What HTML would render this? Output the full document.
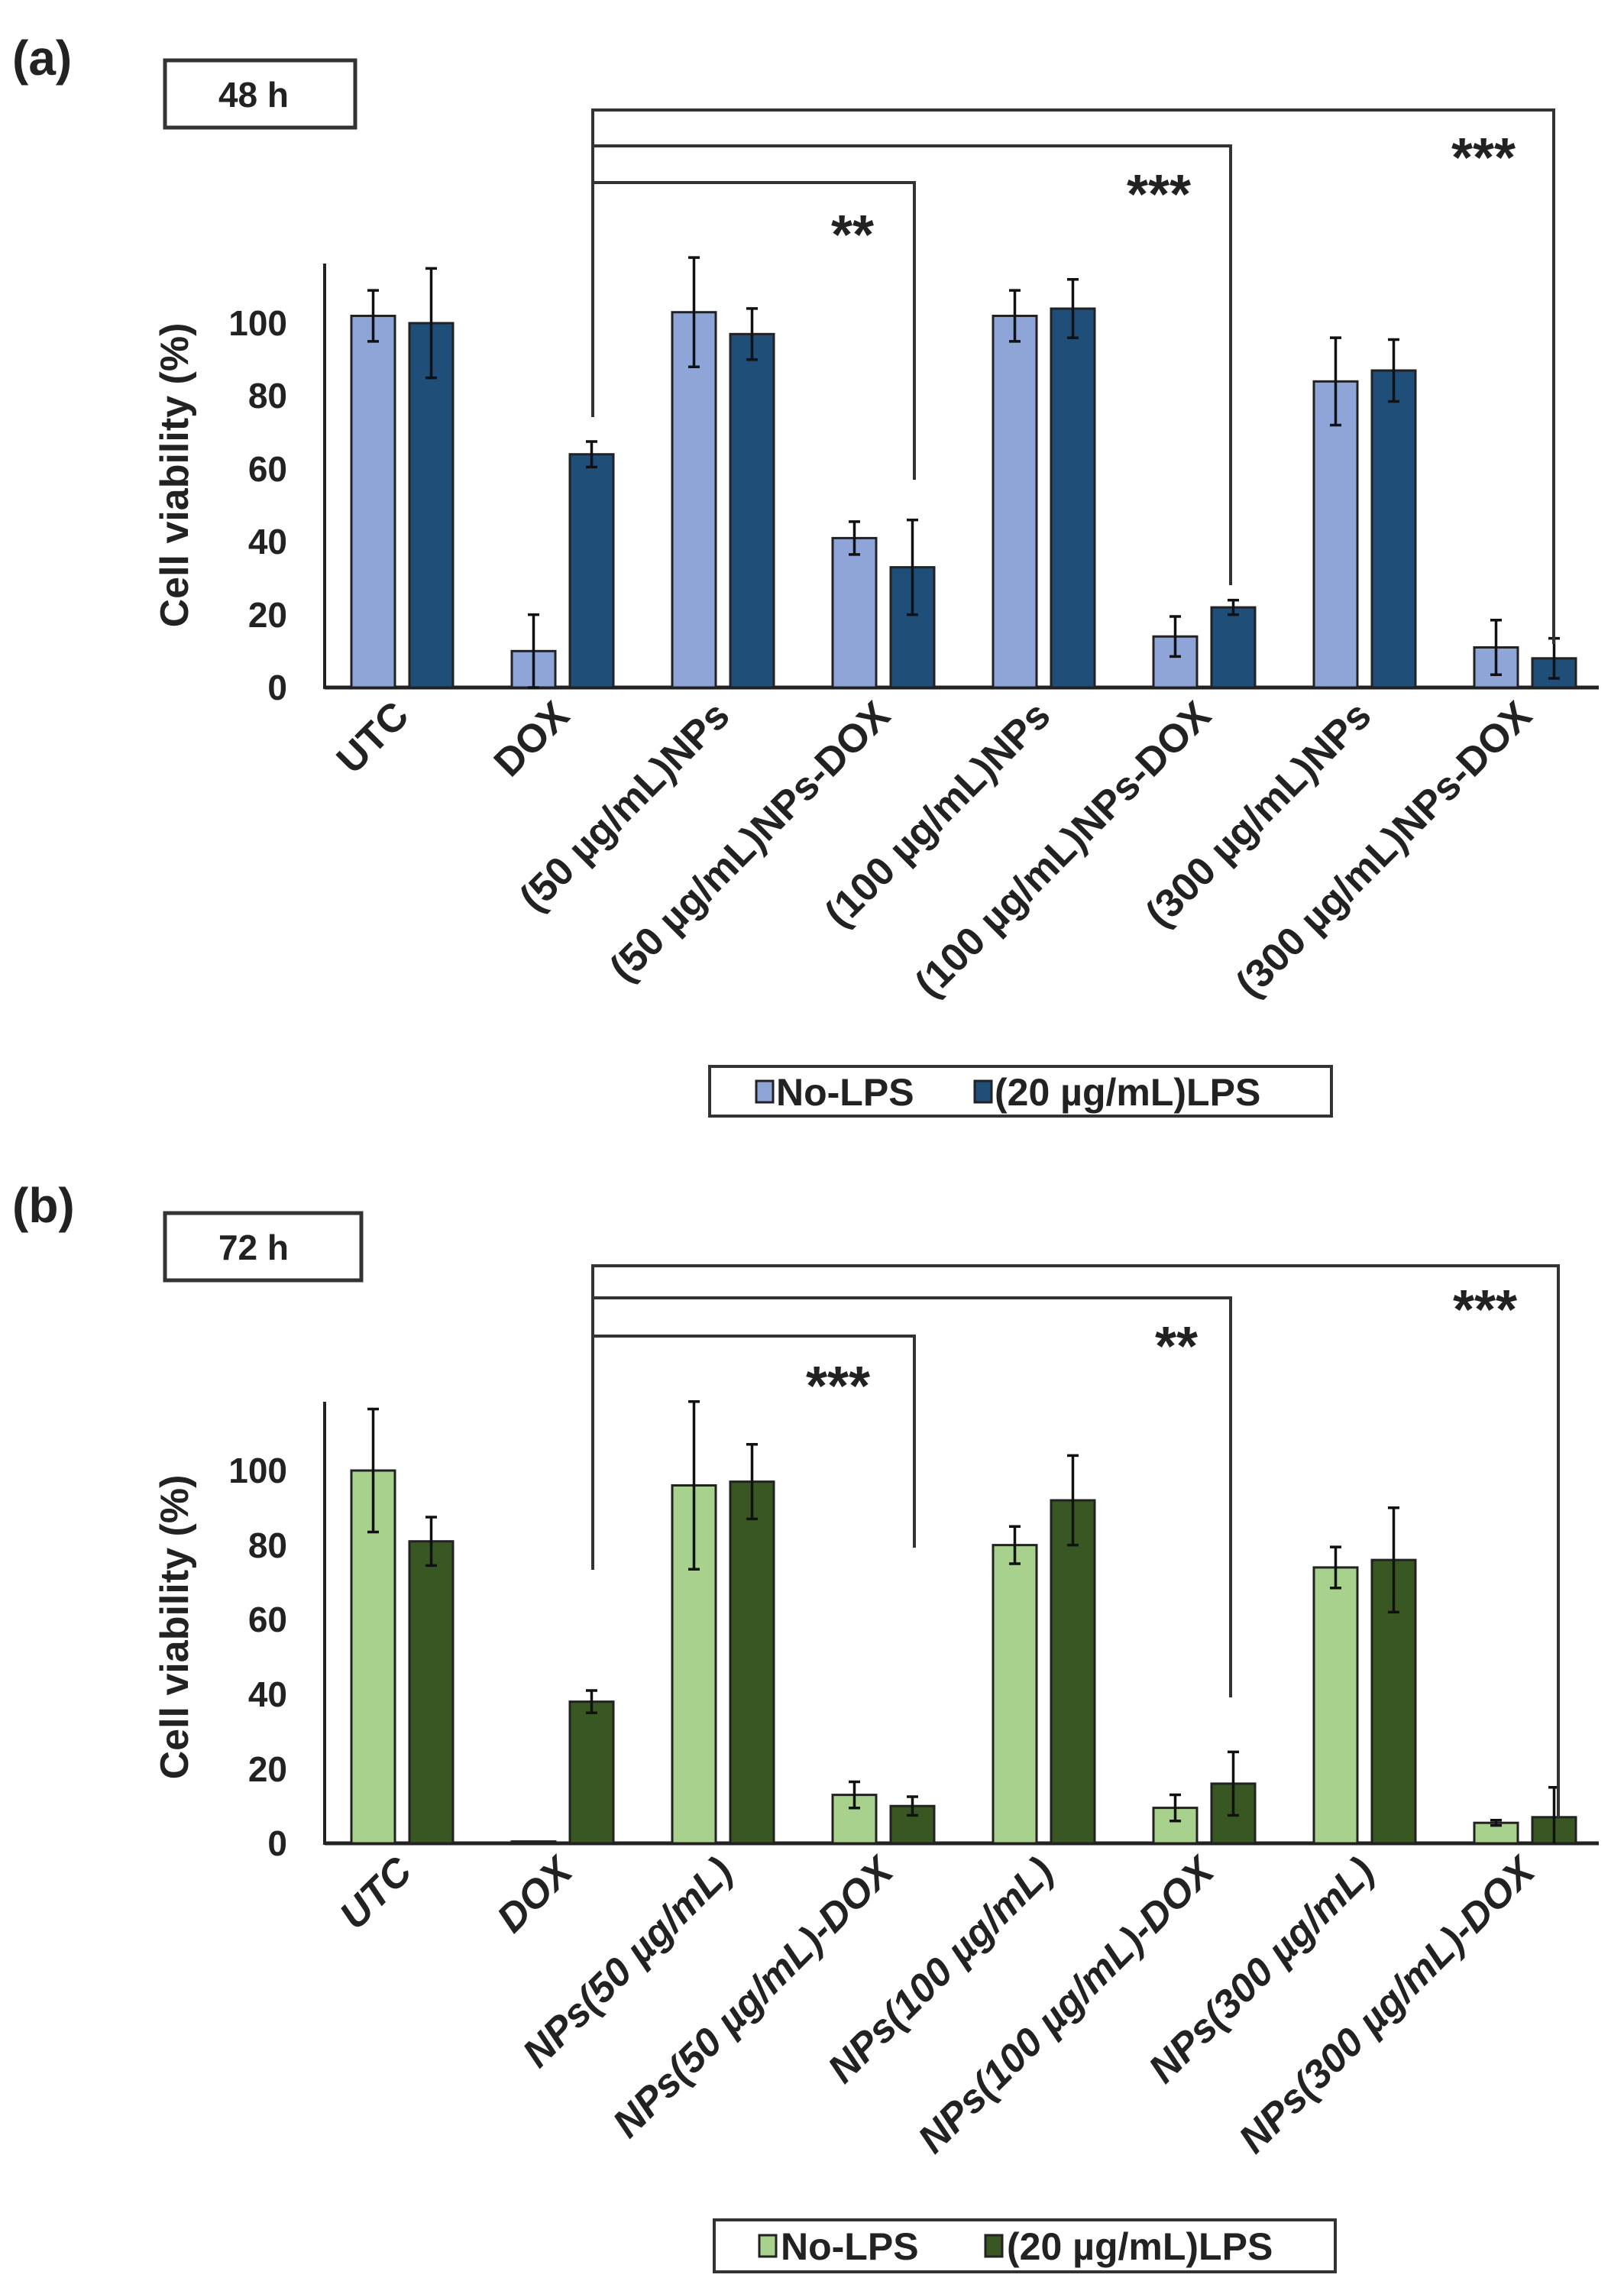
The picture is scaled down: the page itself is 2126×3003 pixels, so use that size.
<!DOCTYPE html>
<html><head><meta charset="utf-8"><style>
html,body{margin:0;padding:0;background:#fff}
svg{display:block}
text{font-family:"Liberation Sans",Arial,sans-serif;font-weight:bold;fill:#222}
</style></head><body>
<svg width="2126" height="3003" viewBox="0 0 2126 3003" xmlns="http://www.w3.org/2000/svg">
<!-- ================= PANEL A ================= -->
<text x="16" y="98" font-size="64">(a)</text>
<rect x="216" y="79" width="249" height="88" fill="#fff" stroke="#333" stroke-width="5"/>
<text x="332" y="140" font-size="46" text-anchor="middle">48 h</text>

<line x1="425" y1="345" x2="425" y2="902" stroke="#222" stroke-width="4"/>
<line x1="425" y1="900" x2="2093" y2="900" stroke="#222" stroke-width="5"/>
<g font-size="46" text-anchor="end">
<text x="376" y="916">0</text><text x="376" y="821">20</text><text x="376" y="725">40</text>
<text x="376" y="630">60</text><text x="376" y="534">80</text><text x="376" y="439">100</text>
</g>
<text transform="translate(246,622) rotate(-90)" font-size="52" text-anchor="middle">Cell viability (%)</text>

<g stroke="#222" stroke-width="3">
<g fill="#8FA5D8">
<rect x="460" y="413.5" width="57" height="486.5"/>
<rect x="670" y="852.3" width="57" height="47.7"/>
<rect x="880" y="408.7" width="57" height="491.3"/>
<rect x="1090" y="704.4" width="57" height="195.6"/>
<rect x="1300" y="413.5" width="57" height="486.5"/>
<rect x="1510" y="833.2" width="57" height="66.8"/>
<rect x="1720" y="499.3" width="57" height="400.7"/>
<rect x="1930" y="847.5" width="57" height="52.5"/>
</g>
<g fill="#1F4E79">
<rect x="536" y="423" width="57" height="477"/>
<rect x="746" y="594.7" width="57" height="305.3"/>
<rect x="956" y="437.3" width="57" height="462.7"/>
<rect x="1166" y="742.6" width="57" height="157.4"/>
<rect x="1376" y="404" width="57" height="496"/>
<rect x="1586" y="795.1" width="57" height="104.9"/>
<rect x="1796" y="485" width="57" height="415"/>
<rect x="2006" y="861.8" width="57" height="38.2"/>
</g>
</g>
<g stroke="#111" stroke-width="3.5" fill="none">
<path d="M488.5 380.1V446.9M481 380.1H496M481 446.9H496"/>
<path d="M698.5 804.6V900M691 804.6H706M691 900H706"/>
<path d="M908.5 337.1V480.3M901 337.1H916M901 480.3H916"/>
<path d="M1118.5 682.9V725.9M1111 682.9H1126M1111 725.9H1126"/>
<path d="M1328.5 380.1V446.9M1321 380.1H1336M1321 446.9H1336"/>
<path d="M1538.5 807V859.4M1531 807H1546M1531 859.4H1546"/>
<path d="M1748.5 442.1V556.5M1741 442.1H1756M1741 556.5H1756"/>
<path d="M1958.5 811.7V883.3M1951 811.7H1966M1951 883.3H1966"/>
<path d="M564.5 351.4V494.6M557 351.4H572M557 494.6H572"/>
<path d="M774.5 578V611.4M767 578H782M767 611.4H782"/>
<path d="M984.5 403.9V470.7M977 403.9H992M977 470.7H992"/>
<path d="M1194.5 680.6V804.6M1187 680.6H1202M1187 804.6H1202"/>
<path d="M1404.5 365.8V442.2M1397 365.8H1412M1397 442.2H1412"/>
<path d="M1614.5 785.6V804.6M1607 785.6H1622M1607 804.6H1622"/>
<path d="M1824.5 444.5V525.5M1817 444.5H1832M1817 525.5H1832"/>
<path d="M2034.5 835.6V888M2027 835.6H2042M2027 888H2042"/>
</g>
<g stroke="#333" stroke-width="4" fill="none">
<path d="M776 546V144H2034V843"/>
<path d="M776 191H1611V766"/>
<path d="M776 239H1197V628"/>
</g>
<g font-size="72" text-anchor="middle">
<text x="1116" y="332">**</text>
<text x="1517" y="279">***</text>
<text x="1942" y="231">***</text>
</g>
<g font-size="52" text-anchor="end">
<text transform="translate(538,940) rotate(-45)">UTC</text>
<text transform="translate(748,940) rotate(-45)">DOX</text>
<text transform="translate(958,940) rotate(-45)">(50 µg/mL)NPs</text>
<text transform="translate(1168,940) rotate(-45)">(50 µg/mL)NPs-DOX</text>
<text transform="translate(1378,940) rotate(-45)">(100 µg/mL)NPs</text>
<text transform="translate(1588,940) rotate(-45)">(100 µg/mL)NPs-DOX</text>
<text transform="translate(1798,940) rotate(-45)">(300 µg/mL)NPs</text>
<text transform="translate(2008,940) rotate(-45)">(300 µg/mL)NPs-DOX</text>
</g>
<rect x="929" y="1396" width="814" height="65" fill="#fff" stroke="#333" stroke-width="4"/>
<rect x="990" y="1415" width="22" height="28" fill="#8FA5D8" stroke="#222" stroke-width="3"/>
<text x="1016" y="1447" font-size="50">No-LPS</text>
<rect x="1276" y="1415" width="22" height="28" fill="#1F4E79" stroke="#222" stroke-width="3"/>
<text x="1302" y="1447" font-size="50">(20 µg/mL)LPS</text>

<!-- ================= PANEL B ================= -->
<text x="16" y="1600" font-size="64">(b)</text>
<rect x="216" y="1588" width="257" height="88" fill="#fff" stroke="#333" stroke-width="5"/>
<text x="332" y="1649" font-size="46" text-anchor="middle">72 h</text>

<line x1="425" y1="1835" x2="425" y2="2415" stroke="#222" stroke-width="4"/>
<line x1="425" y1="2413" x2="2093" y2="2413" stroke="#222" stroke-width="5"/>
<g font-size="46" text-anchor="end">
<text x="376" y="2429">0</text><text x="376" y="2332">20</text><text x="376" y="2234">40</text>
<text x="376" y="2136">60</text><text x="376" y="2039">80</text><text x="376" y="1941">100</text>
</g>
<text transform="translate(246,2130) rotate(-90)" font-size="52" text-anchor="middle">Cell viability (%)</text>

<g stroke="#222" stroke-width="3">
<g fill="#A9D18E">
<rect x="460" y="1925" width="57" height="488"/>
<rect x="670" y="2410.6" width="57" height="2.4"/>
<rect x="880" y="1944.5" width="57" height="468.5"/>
<rect x="1090" y="2349.6" width="57" height="63.4"/>
<rect x="1300" y="2022.6" width="57" height="390.4"/>
<rect x="1510" y="2366.6" width="57" height="46.4"/>
<rect x="1720" y="2051.9" width="57" height="361.1"/>
<rect x="1930" y="2386.2" width="57" height="26.8"/>
</g>
<g fill="#385723">
<rect x="536" y="2017.7" width="57" height="395.3"/>
<rect x="746" y="2227.6" width="57" height="185.4"/>
<rect x="956" y="1939.6" width="57" height="473.4"/>
<rect x="1166" y="2364.2" width="57" height="48.8"/>
<rect x="1376" y="1964" width="57" height="449"/>
<rect x="1586" y="2334.9" width="57" height="78.1"/>
<rect x="1796" y="2042.1" width="57" height="370.9"/>
<rect x="2006" y="2378.8" width="57" height="34.2"/>
</g>
</g>
<g stroke="#111" stroke-width="3.5" fill="none">
<path d="M488.5 1844.5V2005.5M481 1844.5H496M481 2005.5H496"/>
<path d="M908.5 1834.7V2054.3M901 1834.7H916M901 2054.3H916"/>
<path d="M1118.5 2332.5V2366.7M1111 2332.5H1126M1111 2366.7H1126"/>
<path d="M1328.5 1998.2V2047M1321 1998.2H1336M1321 2047H1336"/>
<path d="M1538.5 2349.5V2383.7M1531 2349.5H1546M1531 2383.7H1546"/>
<path d="M1748.5 2025.1V2078.7M1741 2025.1H1756M1741 2078.7H1756"/>
<path d="M1958.5 2382.8V2389.6M1951 2382.8H1966M1951 2389.6H1966"/>
<path d="M564.5 1986V2049.4M557 1986H572M557 2049.4H572"/>
<path d="M774.5 2213V2242.2M767 2213H782M767 2242.2H782"/>
<path d="M984.5 1890.8V1988.4M977 1890.8H992M977 1988.4H992"/>
<path d="M1194.5 2352V2376.4M1187 2352H1202M1187 2376.4H1202"/>
<path d="M1404.5 1905.4V2022.6M1397 1905.4H1412M1397 2022.6H1412"/>
<path d="M1614.5 2293.4V2376.4M1607 2293.4H1622M1607 2376.4H1622"/>
<path d="M1824.5 1973.8V2110.4M1817 1973.8H1832M1817 2110.4H1832"/>
<path d="M2034.5 2339.8V2413M2027 2339.8H2042"/>
</g>
<g stroke="#333" stroke-width="4" fill="none">
<path d="M776 2055V1657H2040V2379"/>
<path d="M776 1699H1611V2222"/>
<path d="M776 1749H1197V2026"/>
</g>
<g font-size="72" text-anchor="middle">
<text x="1097" y="1839">***</text>
<text x="1540" y="1787">**</text>
<text x="1944" y="1739">***</text>
</g>
<g font-size="52" text-anchor="end" font-style="italic">
<text transform="translate(542,2453) rotate(-45)">UTC</text>
<text transform="translate(752,2453) rotate(-45)">DOX</text>
<text transform="translate(962,2453) rotate(-45)">NPs(50 µg/mL)</text>
<text transform="translate(1172,2453) rotate(-45)">NPs(50 µg/mL)-DOX</text>
<text transform="translate(1382,2453) rotate(-45)">NPs(100 µg/mL)</text>
<text transform="translate(1592,2453) rotate(-45)">NPs(100 µg/mL)-DOX</text>
<text transform="translate(1802,2453) rotate(-45)">NPs(300 µg/mL)</text>
<text transform="translate(2012,2453) rotate(-45)">NPs(300 µg/mL)-DOX</text>
</g>
<rect x="935" y="2906" width="813" height="68" fill="#fff" stroke="#333" stroke-width="4"/>
<rect x="994" y="2926" width="22" height="28" fill="#A9D18E" stroke="#222" stroke-width="3"/>
<text x="1022" y="2958" font-size="50">No-LPS</text>
<rect x="1290" y="2926" width="22" height="28" fill="#385723" stroke="#222" stroke-width="3"/>
<text x="1318" y="2958" font-size="50">(20 µg/mL)LPS</text>
</svg>
</body></html>
